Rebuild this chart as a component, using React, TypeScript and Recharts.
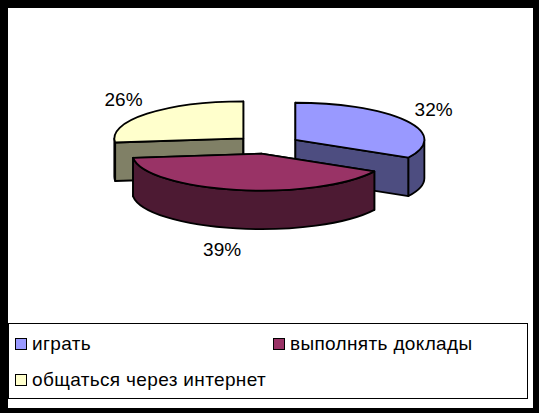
import { Legend, Pie, PieChart } from "recharts";

const categories = ["играть", "выполнять доклады", "общаться через интернет"];
const shares = [32, 39, 26];
const topColors = ["#9999FF", "#993366", "#FFFFCC"];
const sideColors = ["#4D4D80", "#4D1A33", "#808066"];

// painter order: the maroon slice sits in front of the other two
const drawOrder = [2, 0, 1];

const total = shares.reduce((a, b) => a + b, 0);
const pieData = drawOrder.map((i) => ({
  name: categories[i],
  value: shares[i],
  top: topColors[i],
  side: sideColors[i],
}));

const WIDTH = 539;
const HEIGHT = 413;
const CX = 267.5;
const CY = 144.5;
const RX = 129;
const RY = 37;
const DEPTH = 38.5;
const EXPLODE = 32.4;

const firstAngle = 90 + (shares[drawOrder[0]] / total) * 360;
const rad = (d: number) => (d * Math.PI) / 180;

// t = degrees clockwise from 12 o'clock
const pt = (x: number, y: number, t: number) =>
  [x + RX * Math.sin(rad(t)), y - RY * Math.cos(rad(t))] as const;

const Slice3D = (props: any) => {
  const { startAngle, endAngle, cx, cy, payload } = props;
  const span = Math.abs(startAngle - endAngle);
  // round off float noise so a slice starting at 12 o'clock stays at 0
  const t0 = Math.round((((90 - startAngle) % 360) + 360) * 1000) / 1000 % 360;
  const t1 = t0 + span;
  const mid = (t0 + t1) / 2;
  const x = cx + EXPLODE * Math.sin(rad(mid));
  const y = cy - (EXPLODE * RY * Math.cos(rad(mid))) / RX;
  const [ax, ay] = pt(x, y, t0);
  const [bx, by] = pt(x, y, t1);
  const large = span > 180 ? 1 : 0;

  const w0 = Math.max(t0, 90);
  const w1 = Math.min(t1, 270);
  const [wax, way] = pt(x, y, w0);
  const [wbx, wby] = pt(x, y, w1);
  const stroke = { stroke: "#000", strokeWidth: 1.8, strokeLinejoin: "round" as const };

  return (
    <g>
      <path
        d={`M${x},${y} L${ax},${ay} v${DEPTH} L${x},${y + DEPTH} Z`}
        fill={payload.side}
        {...stroke}
      />
      <path
        d={`M${x},${y} L${bx},${by} v${DEPTH} L${x},${y + DEPTH} Z`}
        fill={payload.side}
        {...stroke}
      />
      {w1 > w0 && (
        <path
          d={`M${wax},${way} A${RX},${RY} 0 0 1 ${wbx},${wby} v${DEPTH} A${RX},${RY} 0 0 0 ${wax},${way + DEPTH} Z`}
          fill={payload.side}
          {...stroke}
        />
      )}
      <path
        d={`M${x},${y} L${ax},${ay} A${RX},${RY} 0 ${large} 1 ${bx},${by} Z`}
        fill={payload.top}
        {...stroke}
      />
    </g>
  );
};

const renderLabel = (props: any) => {
  const { cx, cy, midAngle, value } = props;
  const s = Math.cos(rad(midAngle));
  const c = Math.sin(rad(midAngle));
  const front = c < 0;
  const x = cx + (front ? 235 : 193) * s;
  const y = cy - 68 * c + (front ? DEPTH : 0);
  return (
    <text
      x={x}
      y={y}
      textAnchor="middle"
      dominantBaseline="central"
      fontFamily="Liberation Sans"
      fontSize={19}
      fill="#000"
    >
      {value}%
    </text>
  );
};

const legendSlots = [
  { left: 5.5, top: 8.5 },
  { left: 263.5, top: 8.5 },
  { left: 5.5, top: 45 },
];

const LegendBox = () => (
  <div
    style={{
      position: "relative",
      width: 520,
      height: 76,
      background: "#fff",
      border: "1.5px solid #000",
      boxSizing: "border-box",
      fontFamily: "Liberation Sans",
      fontSize: 19,
      color: "#000",
    }}
  >
    {categories.map((name, i) => (
      <div key={name} style={{ position: "absolute", ...legendSlots[i], display: "flex", alignItems: "center", whiteSpace: "nowrap" }}>
        <span
          style={{
            width: 10,
            height: 10,
            background: topColors[i],
            border: "1.5px solid #000",
            marginRight: 5.5,
          }}
        />
        <span style={{ lineHeight: "22px", letterSpacing: 0.35 }}>{name}</span>
      </div>
    ))}
  </div>
);

export default function App() {
  return (
    <div style={{ position: "absolute", left: 0, top: 0, width: WIDTH, height: HEIGHT, background: "#000" }}>
      <div style={{ position: "absolute", left: 8, top: 8, width: 525, height: 400, background: "#fff" }} />
      <PieChart width={WIDTH} height={HEIGHT} margin={{ top: 0, right: 0, bottom: 0, left: 0 }}>
        <Pie
          data={pieData}
          dataKey="value"
          nameKey="name"
          cx={CX}
          cy={CY}
          outerRadius={RX}
          startAngle={firstAngle}
          endAngle={firstAngle - 360}
          shape={Slice3D}
          label={renderLabel}
          labelLine={false}
          stroke="none"
          isAnimationActive={false}
        />
        <Legend
          content={LegendBox}
          wrapperStyle={{ position: "absolute", left: 8, top: 323, width: 520, height: 76, bottom: "auto" }}
        />
      </PieChart>
    </div>
  );
}
